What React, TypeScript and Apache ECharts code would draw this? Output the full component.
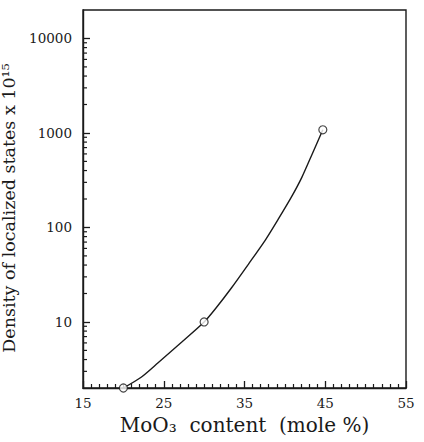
import React, { useEffect, useRef } from "react";
import * as echarts from "echarts";

// x axis range and ticks (MoO3 content, mole %)
const xMin = 15;
const xMax = 55;
const xStep = 10;

// y axis range (log scale)
const yMin = 2;
const yMax = 20000;

// measured points (circles)
const pointX = [20, 30, 44.7];
const pointY = [2.0, 10, 1080];

// fitted curve
const curveX = [20, 22.2, 24.3, 27.2, 30, 31.4, 33.4, 35.5, 37.6, 39.2, 40.8, 42.1, 43.4, 44.7];
const curveY = [2.0, 2.6, 3.7, 6.1, 10, 13.8, 23, 41, 74, 123, 209, 339, 603, 1080];

// minor tick values on the log axis
const yMinorTicks = [
  3, 4, 5, 6, 7, 8, 9,
  20, 30, 40, 50, 60, 70, 80, 90,
  200, 300, 400, 500, 600, 700, 800, 900,
  2000, 3000, 4000, 5000, 6000, 7000, 8000, 9000,
];

const yName = "Density of localized states x 10\u00B9\u2075";
const xName = "MoO\u2083  content  (mole %)";

export default function App() {
  const ref = useRef<HTMLDivElement>(null);

  useEffect(() => {
    if (!ref.current) return;
    const chart = echarts.init(ref.current, undefined, { renderer: "svg" });
    const ink = "#1a1a1a";
    const option = {
      animation: false,
      backgroundColor: "#ffffff",
      grid: {
        left: 83,
        right: 18,
        top: 10,
        bottom: 54,
        show: true,
        borderColor: ink,
        borderWidth: 1.4,
        containLabel: false,
        outerBoundsMode: "none",
      },
      xAxis: {
        type: "value",
        min: xMin,
        max: xMax,
        interval: xStep,
        name: xName,
        nameLocation: "middle",
        nameGap: 17,
        nameTextStyle: {
          fontFamily: "DejaVu Serif",
          fontSize: 20,
          color: ink,
        },
        axisLine: { show: true, lineStyle: { color: ink, width: 1.4 } },
        axisTick: { show: true, inside: true, length: 7, lineStyle: { color: ink, width: 1.3 } },
        minorTick: { show: true, splitNumber: 10, length: 4, lineStyle: { color: ink, width: 1.2 } },
        splitLine: { show: false },
        axisLabel: {
          margin: 8,
          fontFamily: "DejaVu Serif",
          fontSize: 13.5,
          color: ink,
        },
      },
      yAxis: {
        type: "log",
        logBase: 10,
        min: yMin,
        max: yMax,
        name: yName,
        nameLocation: "middle",
        nameGap: 40,
        nameTextStyle: {
          fontFamily: "DejaVu Serif",
          fontSize: 17.5,
          color: ink,
          padding: [0, 18, 0, 0],
        },
        axisLine: { show: true, lineStyle: { color: ink, width: 1.4 } },
        axisTick: { show: true, inside: true, length: 7, lineStyle: { color: ink, width: 1.3 } },
        minorTick: { show: false },
        splitLine: { show: false },
        axisLabel: {
          margin: 11,
          fontFamily: "DejaVu Serif",
          fontSize: 13.5,
          color: ink,
          showMinLabel: false,
          showMaxLabel: false,
          formatter: (v: number) => {
            const l = Math.log10(v);
            return Math.abs(l - Math.round(l)) < 1e-6 ? String(Math.round(v)) : "";
          },
        },
      },
      series: [
        {
          type: "custom",
          silent: true,
          z: 5,
          data: yMinorTicks.map((v) => [xMin, v]),
          renderItem: (_params: any, api: any) => {
            const p = api.coord([api.value(0), api.value(1)]);
            return {
              type: "line",
              shape: { x1: p[0], y1: p[1], x2: p[0] + 4, y2: p[1] },
              style: { stroke: ink, lineWidth: 1.2 },
            };
          },
        },
        {
          type: "line",
          data: curveX.map((x, i) => [x, curveY[i]]),
          smooth: 0.25,
          showSymbol: false,
          symbol: "none",
          lineStyle: { color: ink, width: 1.4 },
          silent: true,
          z: 3,
        },
        {
          type: "scatter",
          data: pointX.map((x, i) => [x, pointY[i]]),
          symbol: "circle",
          symbolSize: 8,
          itemStyle: { color: "#ffffff", borderColor: ink, borderWidth: 1.2 },
          z: 4,
        },
      ],
    };
    chart.setOption(option as any);
    return () => {
      chart.dispose();
    };
  }, []);

  return (
    <div
      ref={ref}
      style={{ position: "absolute", left: 0, top: 0, width: 424, height: 442 }}
    />
  );
}
